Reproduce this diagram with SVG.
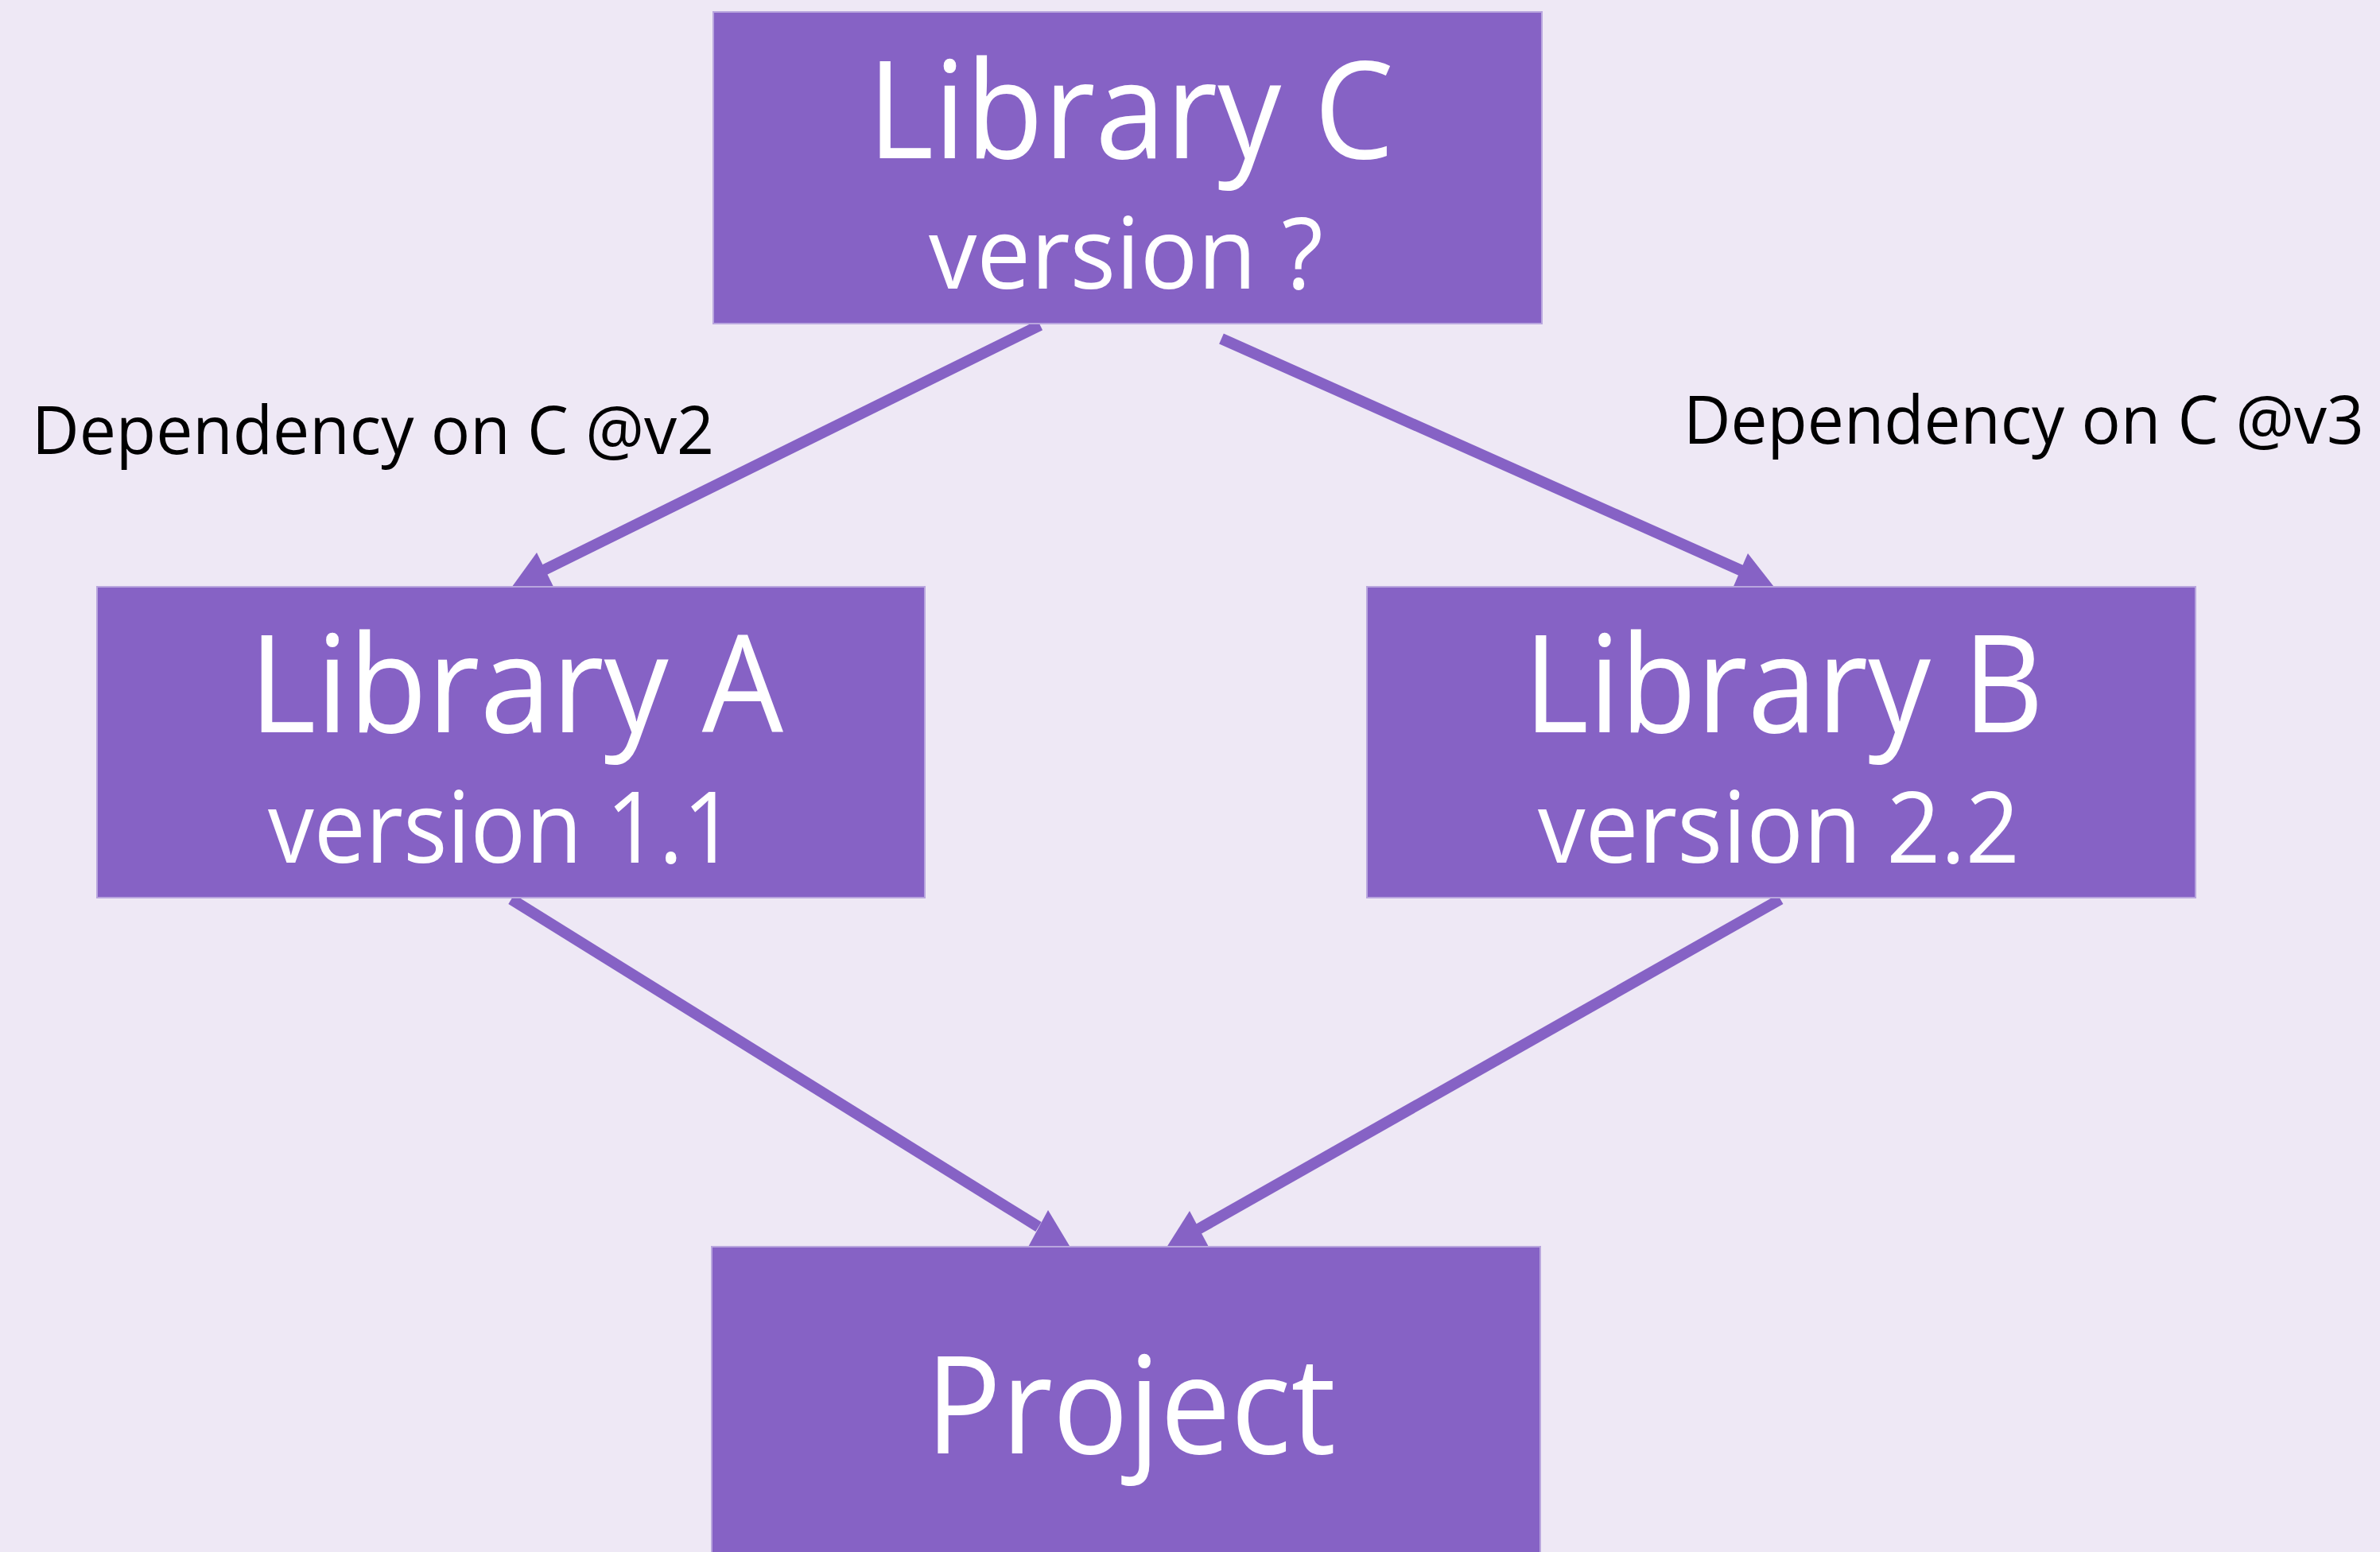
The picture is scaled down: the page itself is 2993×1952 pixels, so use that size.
<svg xmlns="http://www.w3.org/2000/svg" width="2993" height="1952" viewBox="0 0 2993 1952">
<style>
.bg{fill:#EEE8F5}
.node{fill:#8662C5;stroke:#B9A6DE;stroke-width:2}
.edge{stroke:#8662C5;stroke-width:14;fill:none;stroke-linecap:butt}
.head{fill:#8662C5}
.t{font-family:"Open Sans","Noto Sans","Liberation Sans",sans-serif;fill:#FFFFFF;text-anchor:middle}
.big{font-size:170px}
.ver{font-size:124px}
.lbl{font-family:"Open Sans","Noto Sans","Liberation Sans",sans-serif;font-size:84px;fill:#000000;text-anchor:middle}
</style>
<rect class="bg" x="0" y="0" width="2993" height="1952"/>
<g id="connectors">
  <line class="edge" x1="1308" y1="409" x2="684" y2="717"/>
  <polygon class="head" points="675,695 641,742 698,742"/>
  <line class="edge" x1="1536" y1="426" x2="2202" y2="723"/>
  <polygon class="head" points="2198,696 2178,742 2234,742"/>
  <line class="edge" x1="643" y1="1131" x2="1306" y2="1543"/>
  <polygon class="head" points="1318,1522 1291,1572 1348,1572"/>
  <line class="edge" x1="2239" y1="1131" x2="1505" y2="1547"/>
  <polygon class="head" points="1496,1523 1465,1572 1522,1572"/>
  <text class="lbl" x="469" y="571" textLength="858" lengthAdjust="spacingAndGlyphs">Dependency on C @v2</text>
  <text class="lbl" x="2545" y="558" textLength="856" lengthAdjust="spacingAndGlyphs">Dependency on C @v3</text>
</g>
<g id="node-library-c">
  <rect class="node" x="897" y="15" width="1042" height="392"/>
  <text class="t big" x="1422" y="199" textLength="662" lengthAdjust="spacingAndGlyphs">Library C</text>
  <text class="t ver" x="1416" y="363" textLength="496" lengthAdjust="spacingAndGlyphs">version ?</text>
</g>
<g id="node-library-a">
  <rect class="node" x="122" y="738" width="1041" height="391"/>
  <text class="t big" x="649" y="921" textLength="672" lengthAdjust="spacingAndGlyphs">Library A</text>
  <text class="t ver" x="631" y="1085" textLength="588" lengthAdjust="spacingAndGlyphs">version 1.1</text>
</g>
<g id="node-library-b">
  <rect class="node" x="1719" y="738" width="1042" height="391"/>
  <text class="t big" x="2243" y="921" textLength="654" lengthAdjust="spacingAndGlyphs">Library B</text>
  <text class="t ver" x="2237" y="1085" textLength="606" lengthAdjust="spacingAndGlyphs">version 2.2</text>
</g>
<g id="node-project">
  <rect class="node" x="895" y="1568" width="1042" height="400"/>
  <text class="t big" x="1422" y="1828" textLength="516" lengthAdjust="spacingAndGlyphs">Project</text>
</g>
</svg>
